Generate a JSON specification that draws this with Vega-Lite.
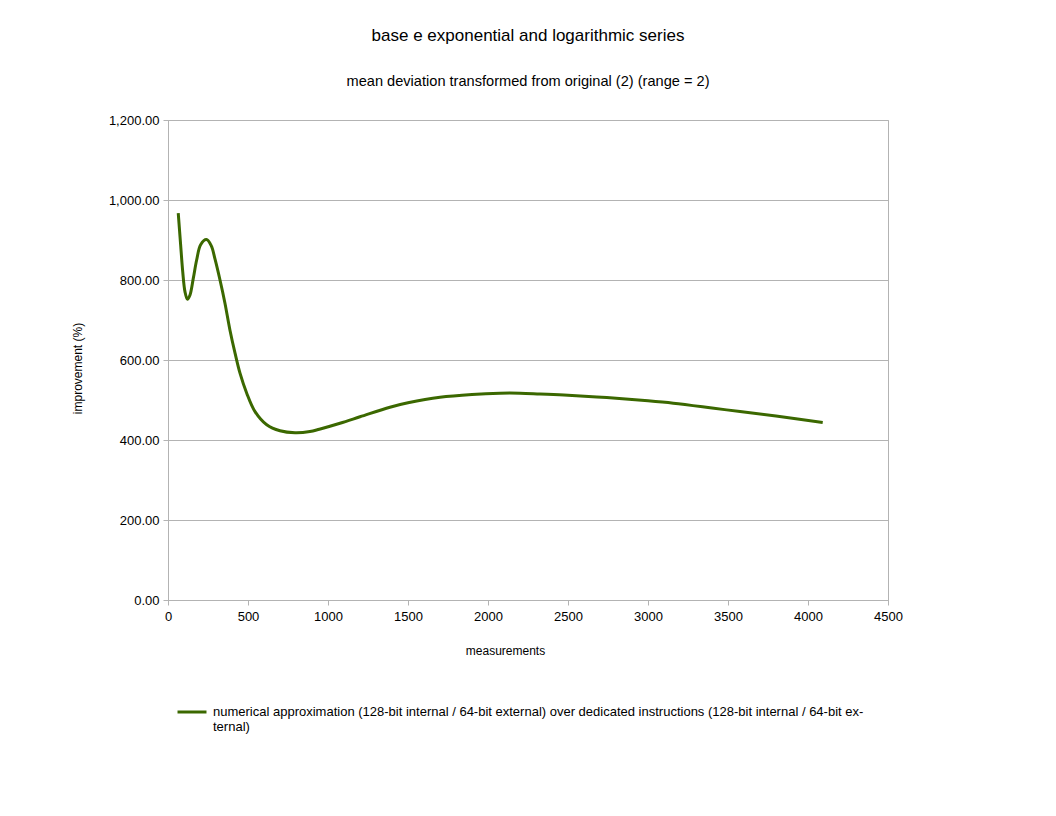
{
  "$schema": "https://vega.github.io/schema/vega-lite/v6.json",
  "width": 720,
  "height": 480,
  "autosize": "none",
  "padding": {"left": 168, "top": 120, "right": 168, "bottom": 216},
  "background": "white",
  "config": {
    "font": "Liberation Sans",
    "view": {"stroke": "#b3b3b3"},
    "axis": {
      "domainColor": "#b3b3b3",
      "gridColor": "#b3b3b3",
      "tickColor": "#b3b3b3",
      "labelColor": "#000000",
      "titleColor": "#000000",
      "labelFont": "Liberation Sans",
      "titleFont": "Liberation Sans",
      "labelFontSize": 13,
      "titleFontSize": 12,
      "titleFontWeight": "normal"
    }
  },
  "title": {
    "text": "base e exponential and logarithmic series",
    "subtitle": "mean deviation transformed from original (2) (range = 2)",
    "anchor": "middle",
    "font": "Liberation Sans",
    "fontSize": 17,
    "fontWeight": "normal",
    "color": "#000000",
    "subtitleFont": "Liberation Sans",
    "subtitleFontSize": 14.6,
    "subtitleColor": "#000000",
    "subtitlePadding": 29,
    "offset": 24
  },
  "data": {
    "values": [
      {"x": 64, "y": 967, "s": "numerical approximation (128-bit internal / 64-bit external) over dedicated instructions (128-bit internal / 64-bit external)"},
      {"x": 79, "y": 888, "s": "numerical approximation (128-bit internal / 64-bit external) over dedicated instructions (128-bit internal / 64-bit external)"},
      {"x": 92, "y": 821, "s": "numerical approximation (128-bit internal / 64-bit external) over dedicated instructions (128-bit internal / 64-bit external)"},
      {"x": 106, "y": 771, "s": "numerical approximation (128-bit internal / 64-bit external) over dedicated instructions (128-bit internal / 64-bit external)"},
      {"x": 121, "y": 752, "s": "numerical approximation (128-bit internal / 64-bit external) over dedicated instructions (128-bit internal / 64-bit external)"},
      {"x": 137, "y": 762, "s": "numerical approximation (128-bit internal / 64-bit external) over dedicated instructions (128-bit internal / 64-bit external)"},
      {"x": 158, "y": 804, "s": "numerical approximation (128-bit internal / 64-bit external) over dedicated instructions (128-bit internal / 64-bit external)"},
      {"x": 179, "y": 850, "s": "numerical approximation (128-bit internal / 64-bit external) over dedicated instructions (128-bit internal / 64-bit external)"},
      {"x": 204, "y": 888, "s": "numerical approximation (128-bit internal / 64-bit external) over dedicated instructions (128-bit internal / 64-bit external)"},
      {"x": 240, "y": 901, "s": "numerical approximation (128-bit internal / 64-bit external) over dedicated instructions (128-bit internal / 64-bit external)"},
      {"x": 270, "y": 886, "s": "numerical approximation (128-bit internal / 64-bit external) over dedicated instructions (128-bit internal / 64-bit external)"},
      {"x": 294, "y": 852, "s": "numerical approximation (128-bit internal / 64-bit external) over dedicated instructions (128-bit internal / 64-bit external)"},
      {"x": 325, "y": 800, "s": "numerical approximation (128-bit internal / 64-bit external) over dedicated instructions (128-bit internal / 64-bit external)"},
      {"x": 356, "y": 742, "s": "numerical approximation (128-bit internal / 64-bit external) over dedicated instructions (128-bit internal / 64-bit external)"},
      {"x": 387, "y": 675, "s": "numerical approximation (128-bit internal / 64-bit external) over dedicated instructions (128-bit internal / 64-bit external)"},
      {"x": 419, "y": 617, "s": "numerical approximation (128-bit internal / 64-bit external) over dedicated instructions (128-bit internal / 64-bit external)"},
      {"x": 450, "y": 567, "s": "numerical approximation (128-bit internal / 64-bit external) over dedicated instructions (128-bit internal / 64-bit external)"},
      {"x": 492, "y": 517, "s": "numerical approximation (128-bit internal / 64-bit external) over dedicated instructions (128-bit internal / 64-bit external)"},
      {"x": 544, "y": 471, "s": "numerical approximation (128-bit internal / 64-bit external) over dedicated instructions (128-bit internal / 64-bit external)"},
      {"x": 617, "y": 438, "s": "numerical approximation (128-bit internal / 64-bit external) over dedicated instructions (128-bit internal / 64-bit external)"},
      {"x": 700, "y": 423, "s": "numerical approximation (128-bit internal / 64-bit external) over dedicated instructions (128-bit internal / 64-bit external)"},
      {"x": 794, "y": 418, "s": "numerical approximation (128-bit internal / 64-bit external) over dedicated instructions (128-bit internal / 64-bit external)"},
      {"x": 887, "y": 421, "s": "numerical approximation (128-bit internal / 64-bit external) over dedicated instructions (128-bit internal / 64-bit external)"},
      {"x": 946, "y": 427, "s": "numerical approximation (128-bit internal / 64-bit external) over dedicated instructions (128-bit internal / 64-bit external)"},
      {"x": 1075, "y": 442, "s": "numerical approximation (128-bit internal / 64-bit external) over dedicated instructions (128-bit internal / 64-bit external)"},
      {"x": 1200, "y": 458, "s": "numerical approximation (128-bit internal / 64-bit external) over dedicated instructions (128-bit internal / 64-bit external)"},
      {"x": 1387, "y": 482, "s": "numerical approximation (128-bit internal / 64-bit external) over dedicated instructions (128-bit internal / 64-bit external)"},
      {"x": 1500, "y": 493, "s": "numerical approximation (128-bit internal / 64-bit external) over dedicated instructions (128-bit internal / 64-bit external)"},
      {"x": 1700, "y": 507, "s": "numerical approximation (128-bit internal / 64-bit external) over dedicated instructions (128-bit internal / 64-bit external)"},
      {"x": 1900, "y": 514, "s": "numerical approximation (128-bit internal / 64-bit external) over dedicated instructions (128-bit internal / 64-bit external)"},
      {"x": 2075, "y": 517, "s": "numerical approximation (128-bit internal / 64-bit external) over dedicated instructions (128-bit internal / 64-bit external)"},
      {"x": 2200, "y": 517, "s": "numerical approximation (128-bit internal / 64-bit external) over dedicated instructions (128-bit internal / 64-bit external)"},
      {"x": 2325, "y": 515, "s": "numerical approximation (128-bit internal / 64-bit external) over dedicated instructions (128-bit internal / 64-bit external)"},
      {"x": 2500, "y": 512, "s": "numerical approximation (128-bit internal / 64-bit external) over dedicated instructions (128-bit internal / 64-bit external)"},
      {"x": 2742, "y": 506, "s": "numerical approximation (128-bit internal / 64-bit external) over dedicated instructions (128-bit internal / 64-bit external)"},
      {"x": 3000, "y": 498, "s": "numerical approximation (128-bit internal / 64-bit external) over dedicated instructions (128-bit internal / 64-bit external)"},
      {"x": 3158, "y": 492, "s": "numerical approximation (128-bit internal / 64-bit external) over dedicated instructions (128-bit internal / 64-bit external)"},
      {"x": 3400, "y": 480, "s": "numerical approximation (128-bit internal / 64-bit external) over dedicated instructions (128-bit internal / 64-bit external)"},
      {"x": 3575, "y": 471, "s": "numerical approximation (128-bit internal / 64-bit external) over dedicated instructions (128-bit internal / 64-bit external)"},
      {"x": 3800, "y": 460, "s": "numerical approximation (128-bit internal / 64-bit external) over dedicated instructions (128-bit internal / 64-bit external)"},
      {"x": 4092, "y": 444, "s": "numerical approximation (128-bit internal / 64-bit external) over dedicated instructions (128-bit internal / 64-bit external)"}
    ]
  },
  "mark": {"type": "line", "interpolate": "catmull-rom", "strokeWidth": 3},
  "encoding": {
    "x": {
      "field": "x",
      "type": "quantitative",
      "title": "measurements",
      "scale": {"domain": [0, 4500], "nice": false},
      "axis": {
        "values": [0, 500, 1000, 1500, 2000, 2500, 3000, 3500, 4000, 4500],
        "format": "d",
        "grid": false,
        "tickSize": 5,
        "labelPadding": 5,
        "titlePadding": 22,
        "titleX": 337,
        "labelFlush": false,
        "labelOverlap": false
      }
    },
    "y": {
      "field": "y",
      "type": "quantitative",
      "title": "improvement (%)",
      "scale": {"domain": [0, 1200], "nice": false},
      "axis": {
        "values": [0, 200, 400, 600, 800, 1000, 1200],
        "format": ",.2f",
        "grid": true,
        "tickSize": 5,
        "labelPadding": 4,
        "titlePadding": 24,
        "titleY": 248,
        "labelFlush": false,
        "labelOverlap": false
      }
    },
    "color": {
      "field": "s",
      "type": "nominal",
      "scale": {"range": ["#3b6800"]},
      "legend": {
        "title": null,
        "orient": "none",
        "legendX": 8,
        "legendY": 576,
        "symbolType": "stroke",
        "symbolStrokeWidth": 3,
        "symbolSize": 840,
        "labelFont": "Liberation Sans",
        "labelFontSize": 13,
        "labelColor": "#000000",
        "labelLimit": 0,
        "labelOffset": 5,
        "labelExpr": "['numerical approximation (128-bit internal / 64-bit external) over dedicated instructions (128-bit internal / 64-bit ex-', 'ternal)']"
      }
    }
  }
}
